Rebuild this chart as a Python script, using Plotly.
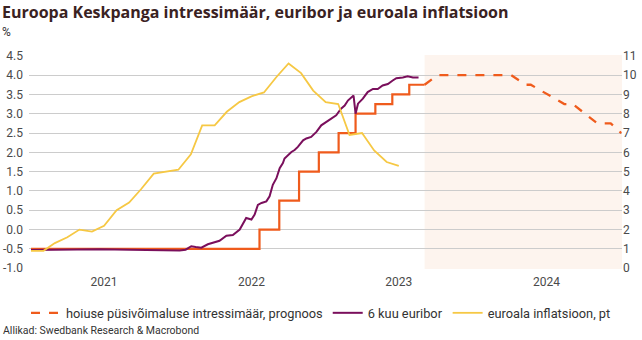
import plotly.graph_objects as go

# ---- data ----
rate_dates = ["2021-01-01", "2022-07-21", "2022-09-08", "2022-10-27", "2022-12-15",
              "2023-02-02", "2023-03-16", "2023-05-04", "2023-06-15", "2023-07-27", "2023-09-03"]
rate_values = [-0.5, 0.0, 0.75, 1.5, 2.0, 2.5, 3.0, 3.25, 3.5, 3.75, 3.75]

forecast_dates = ["2023-09-03", "2023-10-05", "2024-04-04", "2024-05-11", "2024-05-23",
                  "2024-08-14", "2024-09-04", "2024-11-04", "2024-12-07", "2025-01-02"]
forecast_values = [3.75, 4.0, 4.0, 3.75, 3.75, 3.25, 3.25, 2.75, 2.75, 2.5]

euribor_dates = ["2021-01-01", "2021-03-14", "2021-06-21", "2021-09-03", "2021-10-22",
                 "2021-12-18", "2022-01-04", "2022-01-19", "2022-02-02", "2022-02-13",
                 "2022-02-27", "2022-03-15", "2022-03-30", "2022-04-13", "2022-04-30",
                 "2022-05-16", "2022-06-02", "2022-06-18", "2022-07-01", "2022-07-09",
                 "2022-07-17", "2022-07-26", "2022-08-07", "2022-08-15", "2022-08-23",
                 "2022-09-01", "2022-09-09", "2022-09-17", "2022-09-21", "2022-09-29",
                 "2022-10-08", "2022-10-16", "2022-10-24", "2022-11-06", "2022-11-14",
                 "2022-11-26", "2022-12-09", "2022-12-21", "2023-01-02", "2023-01-15",
                 "2023-01-27", "2023-02-08", "2023-02-17", "2023-02-25", "2023-03-05",
                 "2023-03-11", "2023-03-16", "2023-03-22", "2023-04-03", "2023-04-15",
                 "2023-04-28", "2023-05-10", "2023-05-22", "2023-06-04", "2023-06-16",
                 "2023-06-25", "2023-07-11", "2023-07-23", "2023-08-05", "2023-08-19"]
euribor_values = [-0.53, -0.52, -0.51, -0.52, -0.53,
                  -0.55, -0.54, -0.52, -0.43, -0.45,
                  -0.47, -0.38, -0.33, -0.29, -0.16,
                  -0.14, 0.0, 0.3, 0.26, 0.39,
                  0.64, 0.69, 0.73, 0.86, 1.16,
                  1.33, 1.59, 1.72, 1.84, 1.93,
                  2.01, 2.06, 2.14, 2.31, 2.36,
                  2.40, 2.53, 2.70, 2.79, 2.87,
                  2.96, 3.13, 3.21, 3.34, 3.43,
                  3.47, 3.0, 3.26, 3.39, 3.56,
                  3.64, 3.64, 3.73, 3.77, 3.86,
                  3.92, 3.94, 3.97, 3.94, 3.94]

infl_dates = ["2021-01-01", "2021-02-01", "2021-03-01", "2021-04-01", "2021-05-01", "2021-06-01",
              "2021-07-01", "2021-08-01", "2021-09-01", "2021-10-01", "2021-11-01", "2021-12-01",
              "2022-01-01", "2022-02-01", "2022-03-01", "2022-04-01", "2022-05-01", "2022-06-01",
              "2022-07-01", "2022-08-01", "2022-09-01", "2022-10-01", "2022-11-01", "2022-12-01",
              "2023-01-01", "2023-02-01", "2023-03-01", "2023-04-01", "2023-05-01", "2023-06-01",
              "2023-07-01"]
infl_values = [0.9, 0.9, 1.3, 1.6, 2.0, 1.9, 2.2, 3.0, 3.4, 4.1, 4.9, 5.0,
               5.1, 5.9, 7.4, 7.4, 8.1, 8.6, 8.9, 9.1, 9.9, 10.6, 10.1, 9.2,
               8.6, 8.5, 6.9, 7.0, 6.1, 5.5, 5.3]

year_ticks = ["2021-07-01", "2022-07-01", "2023-07-01", "2024-07-01"]
year_labels = ["2021", "2022", "2023", "2024"]
left_ticks = [-1.0, -0.5, 0.0, 0.5, 1.0, 1.5, 2.0, 2.5, 3.0, 3.5, 4.0, 4.5]
left_labels = ["-1.0", "-0.5", "0.0", "0.5", "1.0", "1.5", "2.0", "2.5", "3.0", "3.5", "4.0", "4.5"]
right_ticks = list(range(0, 12))
right_labels = [str(v) for v in right_ticks]

forecast_start = "2023-09-03"
forecast_end = "2025-01-04"

ORANGE = "#ef5b1c"
PURPLE = "#7a0f5c"
YELLOW = "#f6c844"
FONT = "Roboto"
TXT = "#4a4a4a"

fig = go.Figure()

fig.add_shape(type="rect", xref="x", yref="paper", x0=forecast_start, x1=forecast_end,
              y0=0, y1=1, fillcolor="#fdf4ee", line_width=0, layer="below")

fig.add_trace(go.Scatter(x=forecast_dates, y=forecast_values, mode="lines",
                         line=dict(color=ORANGE, width=2.3, dash="dash"),
                         name="hoiuse püsivõimaluse intressimäär, prognoos"))
fig.add_trace(go.Scatter(x=rate_dates, y=rate_values, mode="lines", line_shape="hv",
                         line=dict(color=ORANGE, width=2.2), showlegend=False))
fig.add_trace(go.Scatter(x=euribor_dates, y=euribor_values, mode="lines",
                         line=dict(color=PURPLE, width=2), name="6 kuu euribor"))
fig.add_trace(go.Scatter(x=infl_dates, y=infl_values, mode="lines", yaxis="y2",
                         line=dict(color=YELLOW, width=1.8), name="euroala inflatsioon, pt"))

fig.update_layout(
    width=642, height=340,
    margin=dict(l=29, r=20, t=55, b=71),
    paper_bgcolor="white", plot_bgcolor="white",
    font=dict(family=FONT, size=12, color=TXT),
    xaxis=dict(range=["2020-12-27", forecast_end], tickvals=year_ticks, ticktext=year_labels,
               showgrid=False, zeroline=False, showline=False, ticks="", automargin=False,
               tickfont=dict(size=12, color=TXT), ticklabelstandoff=4),
    yaxis=dict(range=[-1.02, 4.52], tickvals=left_ticks, ticktext=left_labels,
               showgrid=True, gridcolor="#cccccc", gridwidth=1, zeroline=False,
               ticks="", tickfont=dict(size=12, color=TXT), automargin=False,
               ticklabelstandoff=5),
    yaxis2=dict(range=[-0.04, 11.04], overlaying="y", side="right",
                tickvals=right_ticks, ticktext=right_labels, showgrid=False,
                zeroline=False, ticks="", tickfont=dict(size=12, color=TXT), automargin=False),
    legend=dict(orientation="h", xref="container", x=0.5, xanchor="center",
                yref="container", y=(340 - 313) / 340, yanchor="middle",
                font=dict(size=12.8, color="#333333"), bgcolor="rgba(0,0,0,0)",
                itemwidth=30, tracegroupgap=0),
    showlegend=True,
)

fig.add_annotation(text="<b>Euroopa Keskpanga intressimäär, euribor ja euroala inflatsioon</b>",
                   xref="paper", yref="paper", x=-29/593, y=1 + 43/214, xanchor="left",
                   yanchor="middle", showarrow=False,
                   font=dict(family="Open Sans", size=16, color="#3a2222"))
fig.add_annotation(text="%", xref="paper", yref="paper", x=-29/593, y=1 + 23/214,
                   xanchor="left", yanchor="middle", showarrow=False,
                   font=dict(family=FONT, size=12, color="#333333"))
fig.add_annotation(text="Allikad: Swedbank Research & Macrobond", xref="paper", yref="paper",
                   x=-28/593, y=-(330 - 269)/214, xanchor="left", yanchor="middle",
                   showarrow=False, font=dict(family=FONT, size=10.5, color="#333333"))

fig.write_html("out.html")
